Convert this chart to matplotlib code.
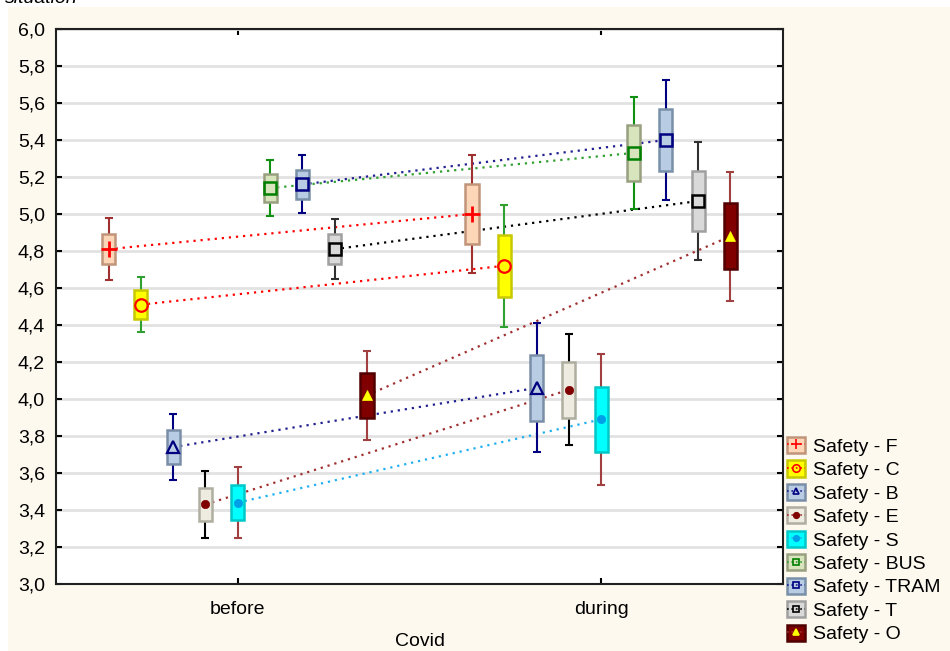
import matplotlib
matplotlib.use("Agg")
import matplotlib.pyplot as plt
from matplotlib.patches import Rectangle
from matplotlib.lines import Line2D
from matplotlib.ticker import FixedLocator, FuncFormatter

plt.rcParams['font.family'] = ['Liberation Sans', 'DejaVu Sans']

# ---- data ----
categories = ['before', 'during']
series = ['F', 'C', 'B', 'E', 'S', 'BUS', 'TRAM', 'T', 'O']
labels = ['Safety - ' + s for s in series]
mean_before = [4.81, 4.51, 3.74, 3.43, 3.44, 5.14, 5.16, 4.81, 4.02]
mean_during = [5.00, 4.72, 4.06, 4.05, 3.89, 5.33, 5.40, 5.07, 4.88]
se_before = [0.081, 0.077, 0.093, 0.091, 0.096, 0.075, 0.080, 0.080, 0.122]
se_during = [0.161, 0.167, 0.178, 0.150, 0.177, 0.152, 0.165, 0.161, 0.178]
ci_before = [0.166, 0.150, 0.180, 0.181, 0.191, 0.150, 0.157, 0.162, 0.239]
ci_during = [0.318, 0.331, 0.349, 0.299, 0.353, 0.303, 0.326, 0.317, 0.349]
y_ticks = [3.0, 3.2, 3.4, 3.6, 3.8, 4.0, 4.2, 4.4, 4.6, 4.8, 5.0, 5.2, 5.4, 5.6, 5.8, 6.0]

# ---- styles ----
face = ['#fdd5b7', '#ffff00', '#b8cce4', '#eeece1', '#00ffff', '#d8e4bc', '#b8cce4', '#d9d9d9', '#800000']
edge = ['#c0957a', '#c8c800', '#7a8ea8', '#b0aea0', '#00c8c8', '#98a080', '#7890a8', '#a0a0a0', '#500000']
whisk = ['#a03030', '#30a030', '#000080', '#000000', '#a04040', '#109010', '#000080', '#303030', '#a04040']
mcol = ['#ff0000', '#ff0000', '#000080', '#800000', '#00a0e8', '#008000', '#000080', '#000000', '#ffff00']
lcol = ['#ff0000', '#ff0000', '#202090', '#a03030', '#20b0f0', '#30a030', '#202090', '#000000', '#a03030']
marker = ['+', 'o', '^', 'o', 'o', 's', 's', 's', '^']
msize = [11, 9, 8, 6, 6, 8, 8, 8, 7]
mface = ['none', 'none', 'none', '#800000', '#00a0e8', 'none', 'none', 'none', '#ffff00']
mew = [2, 1.6, 1.6, 0.5, 0.5, 1.8, 1.8, 1.8, 0.5]

cream = '#fdf9ee'
fig = plt.figure(figsize=(9.5, 6.51), dpi=100, facecolor='white')
fig.patches.append(Rectangle((8 / 950, 0), 1, 1 - 7 / 651, transform=fig.transFigure,
                             facecolor=cream, edgecolor='none', zorder=-10))
fig.text(5 / 950, 1 - 3 / 651, 'situation', fontsize=14, style='italic', va='baseline', ha='left')

ax = fig.add_axes([56 / 950, 1 - 584 / 651, (783 - 56) / 950, (584 - 29) / 651])
ax.set_facecolor('white')

n = len(series)
step = 0.8 / n
bw = 0.036
xc = [1, 2]
for i in range(n):
    off = (i - (n - 1) / 2) * step
    xs = [xc[0] + off, xc[1] + off]
    means = [mean_before[i], mean_during[i]]
    ses = [se_before[i], se_during[i]]
    cis = [ci_before[i], ci_during[i]]
    ax.plot(xs, means, linestyle=(0, (1, 2.2)), color=lcol[i], lw=1.6, zorder=2)
    ax.errorbar(xs, means, yerr=cis, fmt='none', ecolor=whisk[i], elinewidth=1.5,
                capsize=2.8, capthick=1.5, zorder=3)
    ax.bar(xs, [2 * s for s in ses], bottom=[m - s for m, s in zip(means, ses)], width=bw,
           color=face[i], edgecolor=edge[i], linewidth=1.8, zorder=4)
    ax.plot(xs, means, linestyle='none', marker=marker[i], ms=msize[i], mfc=mface[i],
            mec=mcol[i], mew=mew[i], zorder=5)

ax.set_xlim(0.5, 2.5)
ax.set_ylim(3.0, 6.0)
ax.set_xticks(xc)
ax.set_xticklabels(categories, fontsize=14)
ax.yaxis.set_major_locator(FixedLocator(y_ticks))
ax.yaxis.set_major_formatter(FuncFormatter(lambda v, p: f'{v:.1f}'.replace('.', ',')))
ax.tick_params(axis='y', labelsize=14, direction='in', length=4, width=1.5, right=True, pad=8)
ax.tick_params(axis='x', direction='in', length=4, width=1.5, top=True, pad=12)
ax.grid(axis='y', color='#e2e2e2', lw=2)
ax.set_axisbelow(True)
for sp in ax.spines.values():
    sp.set_linewidth(1.5)
    sp.set_color('#202020')
ax.set_xlabel('Covid', fontsize=14, labelpad=11)

handles = []
for i in range(n):
    p = Rectangle((0, 0), 1, 1, facecolor=face[i], edgecolor=edge[i], linewidth=1.8)
    l = Line2D([0], [0], linestyle=':', color=lcol[i], lw=1.2, marker=marker[i],
               ms=max(msize[i] * 0.6, 4), mfc=mface[i], mec=mcol[i], mew=1.2)
    handles.append((p, l))
fig.legend(handles, labels, loc='upper left', bbox_to_anchor=(787 / 950, 1 - 437 / 651),
           frameon=False, fontsize=14, handlelength=0.9, handleheight=0.9,
           handletextpad=0.45, labelspacing=0.24, borderpad=0, borderaxespad=0)

fig.savefig('out.png', dpi=100, facecolor=fig.get_facecolor())
